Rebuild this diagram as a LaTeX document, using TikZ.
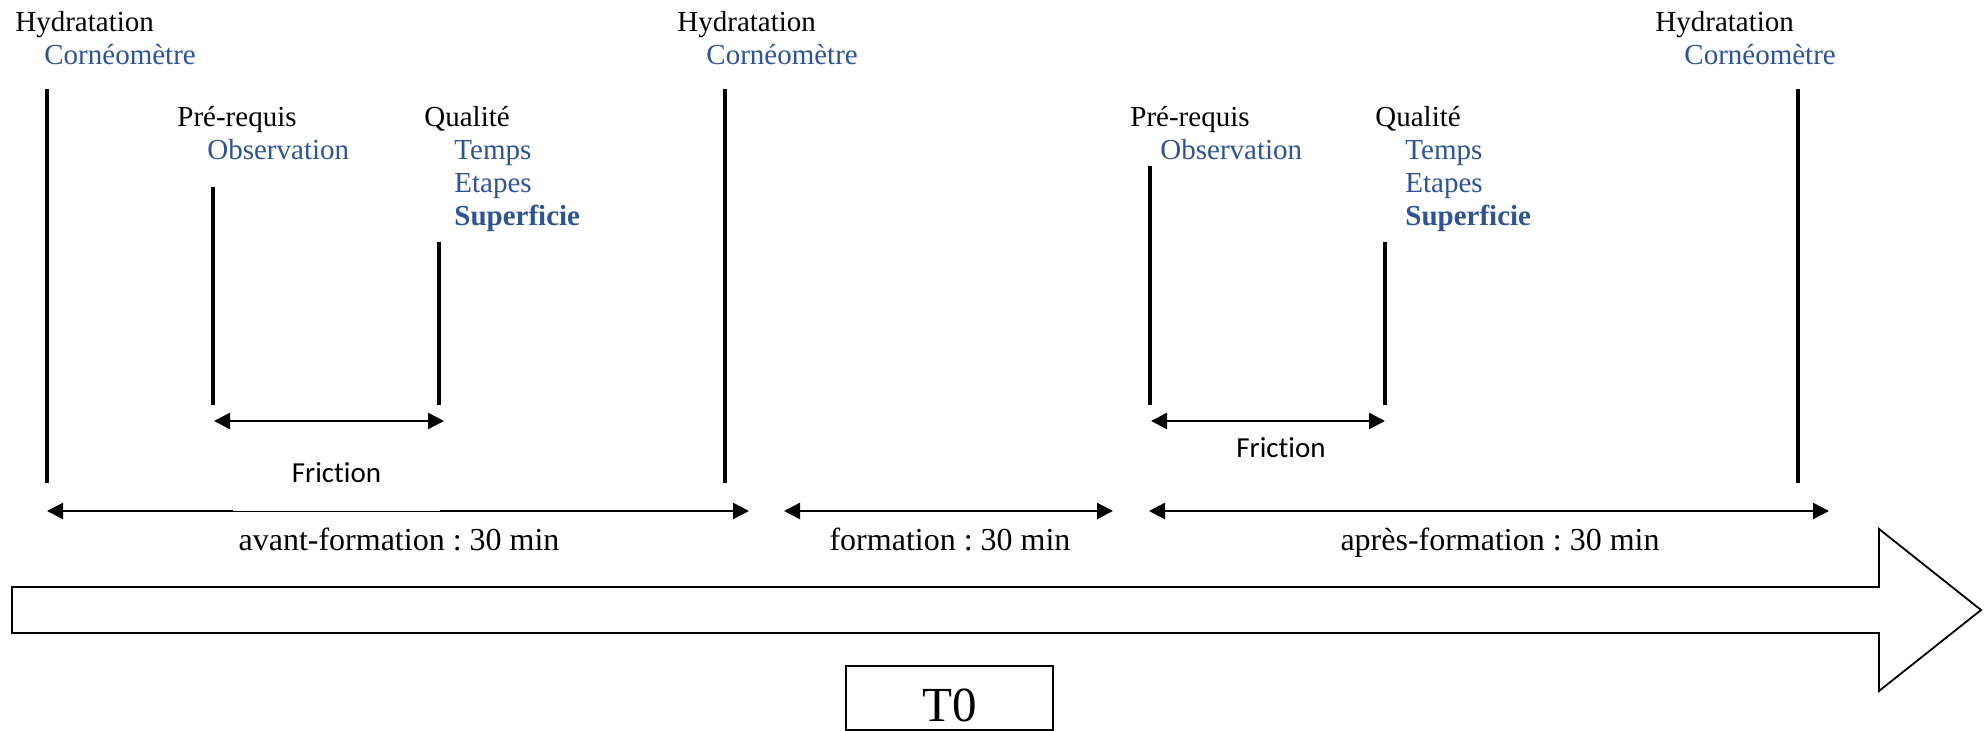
\documentclass[tikz,border=0pt]{standalone}
\usepackage{fontspec}
\setmainfont{Liberation Serif}
\newfontfamily\califont[Ligatures=NoCommon]{Carlito}
\usetikzlibrary{arrows.meta}
\definecolor{wordblue}{RGB}{47,84,150}
\frenchspacing
\tikzset{
  lbl/.style={anchor=base west, inner sep=0pt, font=\fontsize{14.5pt}{16pt}\selectfont},
  sublbl/.style={lbl, text=wordblue},
  vbar/.style={line width=2pt},
  dimarrow/.style={line width=1.2pt, {Triangle[length=8pt,width=8pt]}-{Triangle[length=8pt,width=8pt]}},
  fric/.style={inner sep=0pt, font=\califont\fontsize{14.5pt}{16pt}\selectfont},
  dur/.style={anchor=base, inner sep=0pt, font=\fontsize{16pt}{18pt}\selectfont},
  bigarrow/.style={line width=0.9pt, line join=miter}
}
\begin{document}
\begin{tikzpicture}[x=0.5pt, y=-0.5pt]
\useasboundingbox[fill=white] (0,0) rectangle (1984,731);

% top labels
\node[lbl] (h1) at (15,32) {Hydratation};
\node[sublbl] (c1) at (44,65) {Cornéomètre};
\node[lbl] (h2) at (677,32) {Hydratation};
\node[sublbl] (c2) at (706,65) {Cornéomètre};
\node[lbl] (h3) at (1655,32) {Hydratation};
\node[sublbl] (c3) at (1684,65) {Cornéomètre};

\node[lbl] (p1) at (177,127) {Pré-requis};
\node[sublbl] (o1) at (207,160) {Observation};
\node[lbl] (q1) at (424,127) {Qualité};
\node[sublbl] (t1) at (454,160) {Temps};
\node[sublbl] (e1) at (454,193) {Etapes};
\node[sublbl, font=\fontsize{14.5pt}{16pt}\selectfont\bfseries] (s1) at (454,226) {Superficie};

\node[lbl] (p2) at (1130,127) {Pré-requis};
\node[sublbl] (o2) at (1160,160) {Observation};
\node[lbl] (q2) at (1375,127) {Qualité};
\node[sublbl] (t2) at (1405,160) {Temps};
\node[sublbl] (e2) at (1405,193) {Etapes};
\node[sublbl, font=\fontsize{14.5pt}{16pt}\selectfont\bfseries] (s2) at (1405,226) {Superficie};

% vertical bars
\coordinate (v1t) at (47,89);   \coordinate (v1b) at (47,483);
\coordinate (v2t) at (213,187); \coordinate (v2b) at (213,405);
\coordinate (v3t) at (439,242); \coordinate (v3b) at (439,405);
\coordinate (v4t) at (725,89);  \coordinate (v4b) at (725,483);
\coordinate (v5t) at (1150,166); \coordinate (v5b) at (1150,405);
\coordinate (v6t) at (1385,242); \coordinate (v6b) at (1385,405);
\coordinate (v7t) at (1798,89);  \coordinate (v7b) at (1798,483);
\foreach \i in {1,...,7} { \draw[vbar] (v\i t) -- (v\i b); }

% friction arrows
\coordinate (f1l) at (214,421); \coordinate (f1r) at (444,421);
\coordinate (f2l) at (1151,421); \coordinate (f2r) at (1385,421);
\draw[dimarrow] (f1l) -- (f1r);
\draw[dimarrow] (f2l) -- (f2r);

% duration arrows
\coordinate (a1l) at (47,511);   \coordinate (a1r) at (749,511);
\coordinate (a2l) at (784,511);  \coordinate (a2r) at (1113,511);
\coordinate (a3l) at (1149,511); \coordinate (a3r) at (1829,511);
\draw[dimarrow] (a1l) -- (a1r);
\draw[dimarrow] (a2l) -- (a2r);
\draw[dimarrow] (a3l) -- (a3r);

% friction labels
\node[fric, anchor=south, fill=white, minimum width=103.5pt, inner ysep=14pt] (fr1) at (336.5,511.5) {Friction};
\node[fric, anchor=base] (fr2) at (1281,458) {Friction};

% duration labels
\node[dur] (d1) at (399,550) {avant-formation : 30 min};
\node[dur] (d2) at (950,550) {formation : 30 min};
\node[dur] (d3) at (1500,550) {après-formation : 30 min};

% big arrow
\draw[bigarrow] (12,587) -- (1879,587) -- (1879,529) -- (1981,610) -- (1879,691) -- (1879,633) -- (12,633) -- cycle;

% T0 box
\node[draw, line width=0.9pt, anchor=north, minimum width=103.5pt, inner xsep=0pt, inner ysep=2pt, text height=26pt, text depth=2pt, font=\fontsize{24.5pt}{28pt}\selectfont] (t0) at (949.5,665) {T0};
\end{tikzpicture}
\end{document}
